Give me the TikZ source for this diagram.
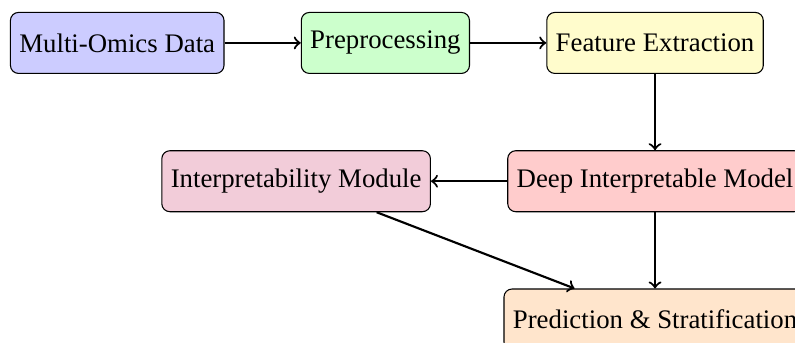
\documentclass[tikz,border=0pt]{standalone}
\usepackage{fontspec}
\setmainfont{Liberation Serif}
\usetikzlibrary{positioning,calc}
\begin{document}
\begin{tikzpicture}[
  box/.style={draw, rounded corners=3pt, minimum height=0.8cm, align=center},
  conn/.style={->, thick},
  node distance=1cm
]
\node[box, fill=blue!20] (a) {Multi-Omics Data};
\node[box, fill=green!20, right=of a] (b) {Preprocessing};
\node[box, fill=yellow!20, right=of b] (c) {Feature Extraction};
\node[box, fill=red!20, below=of c] (d) {Deep Interpretable Model};
\node[box, fill=purple!20, left=of d] (e) {Interpretability Module};
\node[box, fill=orange!20, below=of d] (f) {Prediction \& Stratification};
\draw[conn] (a) -- (b);
\draw[conn] (b) -- (c);
\draw[conn] (c) -- (d);
\draw[conn] (d) -- (e);
\draw[conn] (d) -- (f);
\draw[conn] (e) -- (f);
\pgfresetboundingbox
\path[use as bounding box] ($(a.west |- a.north)+(-0.13,0.156)$) rectangle ($(d.center |- f.center)+(1.836,-0.3)$);
\end{tikzpicture}
\end{document}
